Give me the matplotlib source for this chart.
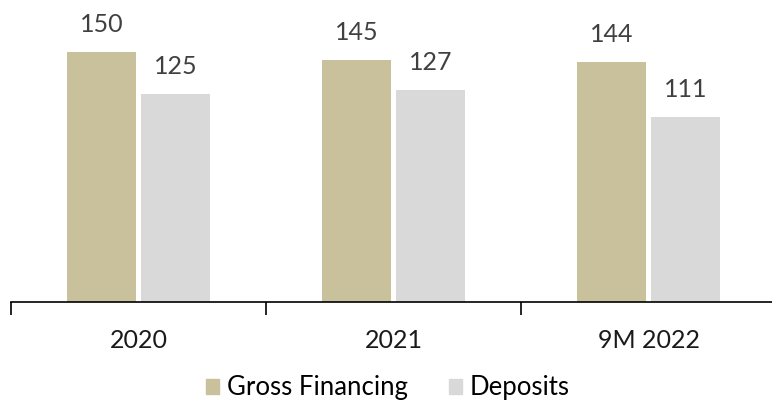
import numpy as np
import matplotlib.pyplot as plt
from matplotlib.patches import Patch

plt.rcParams['font.family'] = ['Lato', 'DejaVu Sans']

# Data
periods = ["2020", "2021", "9M 2022"]
gross_financing = [150, 145, 144]
deposits = [125, 127, 111]

c_gross = "#C9C19C"
c_dep = "#D9D9D9"

fig = plt.figure(figsize=(7.72, 4.04), dpi=100)
ax = fig.add_axes([11 / 772, 1 - 302 / 404, 765 / 772, 250 / 404 * 175 / 150])

x = np.arange(len(periods))
w = 0.273
off = 0.1445
b1 = ax.bar(x - off, gross_financing, w, color=c_gross)
b2 = ax.bar(x + off, deposits, w, color=c_dep)

for bars, vals in ((b1, gross_financing), (b2, deposits)):
    for rect, v in zip(bars, vals):
        ax.text(rect.get_x() + rect.get_width() / 2, v + 12, str(v),
                ha="center", va="baseline", fontsize=18, color="#404040")

ax.set_xlim(-0.5, len(periods) - 0.5)
ax.set_ylim(0, 175)
ax.set_yticks([])
for s in ("top", "right", "left"):
    ax.spines[s].set_visible(False)
ax.spines["bottom"].set_linewidth(1.2)

# ticks between groups, labels centred under groups
ax.set_xticks(np.arange(len(periods) + 1) - 0.5)
ax.set_xticklabels([])
ax.tick_params(axis="x", length=9, width=1.2, direction="out")
for i, p in enumerate(periods):
    ax.text(i, -27.6, p, ha="center", va="baseline", fontsize=18, color="#1a1a1a")

handles = [Patch(color=c_gross, label="Gross Financing"),
           Patch(color=c_dep, label="Deposits")]
fig.legend(handles=handles, loc="center", bbox_to_anchor=(388 / 772, 1 - 388 / 404),
           ncol=2, frameon=False, fontsize=18.5, handlelength=0.5, handleheight=0.5,
           handletextpad=0.3, columnspacing=1.6, borderpad=0)

fig.savefig("out.png", dpi=100)
